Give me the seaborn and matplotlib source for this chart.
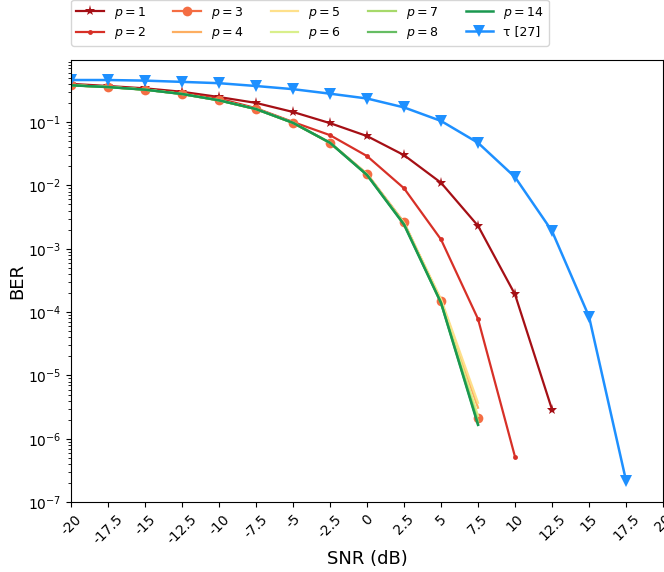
import matplotlib
matplotlib.use("Agg")
import matplotlib.pyplot as plt
import seaborn as sns

# SNR grid (dB)
snr = [-20, -17.5, -15, -12.5, -10, -7.5, -5, -2.5, 0, 2.5, 5, 7.5, 10, 12.5, 15, 17.5]

# BER curves
ber_p1 = [0.40, 0.37, 0.34, 0.30, 0.248, 0.20, 0.144, 0.096, 0.060, 0.030, 0.011,
          2.3e-3, 1.9e-4, 2.9e-6]
ber_p2 = [0.39, 0.36, 0.33, 0.285, 0.235, 0.165, 0.10, 0.062, 0.029, 9.0e-3, 1.4e-3,
          7.8e-5, 5.2e-7]
ber_p3 = [0.38, 0.356, 0.324, 0.277, 0.22, 0.16, 0.097, 0.047, 0.0152, 2.6e-3, 1.5e-4, 2.1e-6]
ber_p4 = [0.38, 0.356, 0.324, 0.277, 0.22, 0.16, 0.097, 0.047, 0.0150, 2.5e-3, 1.55e-4, 3.1e-6]
ber_p5 = [0.38, 0.356, 0.324, 0.277, 0.22, 0.16, 0.097, 0.047, 0.0150, 2.55e-3, 1.6e-4, 3.7e-6]
ber_p6 = [0.38, 0.356, 0.324, 0.277, 0.22, 0.16, 0.097, 0.047, 0.0148, 2.5e-3, 1.45e-4, 2.3e-6]
ber_p7 = [0.38, 0.356, 0.324, 0.277, 0.22, 0.16, 0.097, 0.047, 0.0147, 2.45e-3, 1.4e-4, 1.9e-6]
ber_p8 = [0.38, 0.356, 0.324, 0.277, 0.22, 0.16, 0.097, 0.047, 0.0146, 2.45e-3, 1.4e-4, 1.7e-6]
ber_p14 = [0.38, 0.356, 0.324, 0.277, 0.22, 0.16, 0.097, 0.047, 0.0146, 2.4e-3, 1.4e-4, 1.66e-6]
ber_tau = [0.46, 0.46, 0.45, 0.43, 0.41, 0.37, 0.33, 0.28, 0.235, 0.17, 0.104, 0.047,
           0.0135, 1.9e-3, 8.5e-5, 2.2e-7]

xtick_labels = ["-20", "-17.5", "-15", "-12.5", "-10", "-7.5", "-5", "-2.5", "0",
                "2.5", "5", "7.5", "10", "12.5", "15", "17.5", "20"]

fig, ax = plt.subplots(figsize=(6.64, 5.72), dpi=100)
fig.subplots_adjust(left=0.107, right=0.9985, top=0.895, bottom=0.122)

series = [
    ("$p = 1$", ber_p1, "#a50f15", "*", 8, 1.6),
    ("$p = 2$", ber_p2, "#d73027", "o", 3.5, 1.6),
    ("$p = 3$", ber_p3, "#f46d43", "o", 7, 1.6),
    ("$p = 4$", ber_p4, "#fdae61", None, 0, 1.6),
    ("$p = 5$", ber_p5, "#fee08b", None, 0, 1.6),
    ("$p = 6$", ber_p6, "#d9ef8b", None, 0, 1.6),
    ("$p = 7$", ber_p7, "#a6d96a", None, 0, 1.6),
    ("$p = 8$", ber_p8, "#66bd63", None, 0, 1.6),
    ("$p = 14$", ber_p14, "#1a9850", None, 0, 1.8),
    ("τ [27]", ber_tau, "#1e90ff", "v", 8.5, 1.8),
]

for label, ber, color, marker, ms, lw in series:
    sns.lineplot(x=snr[:len(ber)], y=ber, ax=ax, color=color, marker=marker,
                 markersize=ms, markeredgewidth=0, linewidth=lw, label=label)

ax.set_yscale("log")
ax.set_ylim(1e-7, 0.95)
ax.set_xlim(-20, 20)
ax.set_xticks([float(t) for t in xtick_labels])
ax.set_xticklabels(xtick_labels, rotation=45, fontsize=10)
ax.tick_params(axis="y", labelsize=10)
ax.set_xlabel("SNR (dB)", fontsize=13, labelpad=2)
ax.set_ylabel("BER", fontsize=13, labelpad=1)

ax.legend(ncol=5, loc="lower left", bbox_to_anchor=(0.0, 1.032), borderaxespad=0,
          fontsize=9, handlelength=2.2, columnspacing=2.2, labelspacing=0.35,
          borderpad=0.4, frameon=True)

fig.savefig("out.png", dpi=100)
